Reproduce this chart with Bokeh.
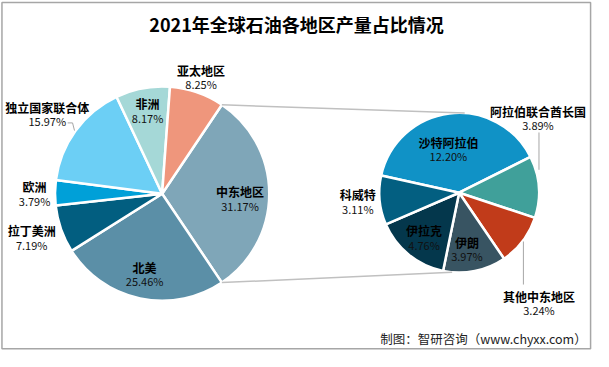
import math
from bokeh.plotting import figure
from bokeh.models import Range1d, ColumnDataSource
from bokeh.core.properties import value
from bokeh.embed import file_html
from bokeh.resources import INLINE

# ---------------- data ----------------
title = "2021年全球石油各地区产量占比情况"
source_note = "制图：智研咨询（www.chyxx.com）"

main_names = ["中东地区", "北美", "拉丁美洲", "欧洲", "独立国家联合体", "非洲", "亚太地区"]
main_values = [31.17, 25.46, 7.19, 3.79, 15.97, 8.17, 8.25]
main_colors = ["#7fa6b8", "#5b8fa7", "#025e80", "#00a0d8", "#6ccff5", "#a5d8d7", "#ef967c"]

sub_names = ["沙特阿拉伯", "阿拉伯联合酋长国", "其他中东地区", "伊朗", "伊拉克", "科威特"]
sub_values = [12.20, 3.89, 3.24, 3.97, 4.76, 3.11]
sub_colors = ["#1092c6", "#40a09a", "#c13b1a", "#385462", "#04374c", "#035f81"]

# ---------------- layout (reference pixel coords, y down) ----------------
W, H = 593, 351
REF_W, REF_H = 609, 367

def Y(yref):
    return REF_H - yref

main_c = (166, 202)
main_r = 110
sub_c = (471, 201)
sub_r = 82
sub_start_deg = 167.5

main_label_pos = [(246, 200), (148, 279), (32, 241), (35, 195), (48, 112), (151, 108), (206, 73)]
sub_label_pos = [(460, 148), (552, 116), (553, 309), (479, 253), (435, 241), (367, 203)]

p = figure(width=W, height=H, output_backend="svg", toolbar_location=None,
           x_range=Range1d(0, REF_W), y_range=Range1d(0, REF_H),
           min_border=0, min_border_left=0, min_border_right=0, min_border_top=0, min_border_bottom=0)
p.axis.visible = False
p.grid.visible = False
p.outline_line_color = None
p.background_fill_color = "white"
p.border_fill_color = "white"

# chart border
p.quad(left=[1.5], right=[606], bottom=[Y(364)], top=[Y(2)], fill_color=None,
       line_color="#a6a6a6", line_width=1.5)


def wedges(values, start_deg, total):
    starts, ends = [], []
    a = math.radians(start_deg)
    for v in values:
        sweep = v / total * 2 * math.pi
        starts.append(a - sweep)
        ends.append(a)
        a -= sweep
    return starts, ends

# main pie: middle east slice centred on the right horizontal
main_total = sum(main_values)
main_start = main_values[0] / main_total * 180.0
ms, me = wedges(main_values, main_start, main_total)
src_m = ColumnDataSource(dict(x=[main_c[0]] * len(main_values), y=[Y(main_c[1])] * len(main_values),
                              s=ms, e=me, c=main_colors))
p.wedge(x="x", y="y", radius=main_r, start_angle="s", end_angle="e", fill_color="c",
        line_color="white", line_width=2.5, source=src_m)

sub_total = sum(sub_values)
ss, se = wedges(sub_values, sub_start_deg, sub_total)
src_s = ColumnDataSource(dict(x=[sub_c[0]] * len(sub_values), y=[Y(sub_c[1])] * len(sub_values),
                              s=ss, e=se, c=sub_colors))
p.wedge(x="x", y="y", radius=sub_r, start_angle="s", end_angle="e", fill_color="c",
        line_color="white", line_width=2.5, source=src_s)

# connector lines
top_a = math.radians(main_start)
bot_a = math.radians(-main_start)
ky = (REF_H / H) / (REF_W / W)  # y data units per x data unit in pixels
p1 = (main_c[0] + main_r * math.cos(top_a), Y(main_c[1]) + main_r * ky * math.sin(top_a))
p2 = (main_c[0] + main_r * math.cos(bot_a), Y(main_c[1]) + main_r * ky * math.sin(bot_a))
q1 = (sub_c[0] + sub_r * math.cos(math.radians(86)), Y(sub_c[1]) + sub_r * ky * math.sin(math.radians(86)))
q2 = (sub_c[0] + sub_r * math.cos(math.radians(-95)), Y(sub_c[1]) + sub_r * ky * math.sin(math.radians(-95)))
p.segment(x0=[p1[0], p2[0]], y0=[p1[1], p2[1]], x1=[q1[0], q2[0]], y1=[q1[1], q2[1]],
          line_color="#c0c0c0", line_width=1.5)

# leader lines
p.line([69, 74, 76], [Y(128), Y(128), Y(136)], line_color="#a6a6a6", line_width=1)
p.line([553, 553], [Y(138), Y(177)], line_color="#a6a6a6", line_width=1)
p.line([537, 537], [Y(252), Y(297)], line_color="#a6a6a6", line_width=1)

CJK = value("Noto Sans CJK SC")

def labels(names, values, pos):
    xs = [q[0] for q in pos]
    p.text(x=xs, y=[Y(q[1]) for q in pos], text=names, text_font=CJK, text_font_style="bold",
           text_font_size="12px", text_align="center", text_baseline="middle", text_color="#000000")
    p.text(x=xs, y=[Y(q[1] + 14.5) for q in pos], text=["%.2f%%" % v for v in values],
           text_font=CJK, text_font_size="11px", text_align="center", text_baseline="middle",
           text_color="#111111")

labels(main_names, main_values, main_label_pos)
labels(sub_names, sub_values, sub_label_pos)

p.text(x=[304], y=[Y(25)], text=[title], text_font=CJK, text_font_style="bold",
       text_font_size="18px", text_align="center", text_baseline="middle", text_color="#000000")
p.text(x=[602], y=[Y(353)], text=[source_note], text_font=CJK, text_font_size="12.5px",
       text_align="right", text_baseline="middle", text_color="#222222")

open("out.html", "w").write(file_html(p, INLINE))
